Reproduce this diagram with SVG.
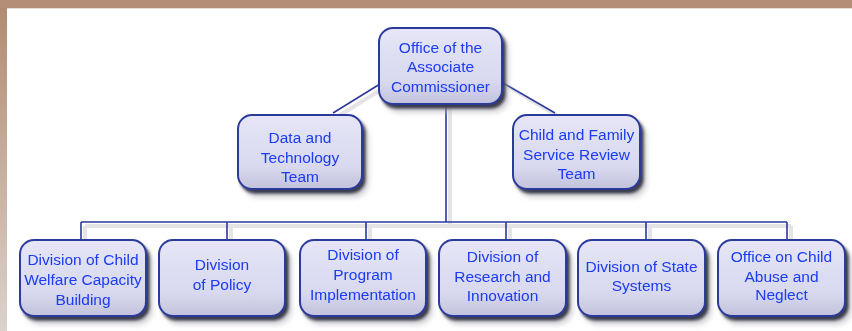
<svg xmlns="http://www.w3.org/2000/svg" width="852" height="331" viewBox="0 0 852 331">
<defs>
<linearGradient id="side" x1="0" y1="0" x2="0" y2="1">
<stop offset="0" stop-color="#b08a70"/>
<stop offset="1" stop-color="#dcd2cb"/>
</linearGradient>
<linearGradient id="boxfill" x1="0" y1="0" x2="0" y2="1">
<stop offset="0" stop-color="#e6e6f7"/>
<stop offset="0.7" stop-color="#d8d8ef"/>
<stop offset="1" stop-color="#c2c2dc"/>
</linearGradient>
<filter id="sh" x="-10%" y="-10%" width="130%" height="140%">
<feGaussianBlur in="SourceAlpha" stdDeviation="1.6" result="b"/>
<feOffset in="b" dx="3" dy="4" result="o"/>
<feFlood flood-color="#2e3046" flood-opacity="0.95"/>
<feComposite in2="o" operator="in" result="s"/>
<feGaussianBlur in="SourceAlpha" stdDeviation="2.5" result="b2"/>
<feOffset in="b2" dx="6" dy="8" result="o2"/>
<feFlood flood-color="#b0b0b8" flood-opacity="0.5"/>
<feComposite in2="o2" operator="in" result="s2"/>
<feMerge><feMergeNode in="s2"/><feMergeNode in="s"/><feMergeNode in="SourceGraphic"/></feMerge>
</filter>
</defs>
<style>
.box{fill:url(#boxfill);stroke:#2b3a9c;stroke-width:2}
.t{font-family:"Liberation Sans",Arial,sans-serif;font-size:15.5px;fill:#1a3af2;text-anchor:middle}
.ln{fill:none;stroke:#2b3a9c;stroke-width:1.6}
.lns{fill:none;stroke:#e4e4e6;stroke-width:4}
</style>
<rect x="0" y="0" width="852" height="331" fill="#ffffff"/>
<rect x="0" y="0" width="7" height="331" fill="url(#side)"/>
<rect x="0" y="0" width="852" height="8" fill="#b48e76"/>
<rect x="7" y="8" width="845" height="1" fill="#e8dcd2"/>
<g id="connectors">
<g transform="translate(4,4)">
<path class="lns" d="M378 85 L333 113 M505 83 L555 113 M446 104 V222 M81 222 H787 M81 222 V240 M227 222 V240 M366 222 V240 M506 222 V240 M646 222 V240 M787 222 V240"/>
</g>
<path class="ln" d="M380 84 L333 113 M503 83 L555 113 M446 104 V222 M81 222 H787 M81 222 V240 M227 222 V240 M366 222 V240 M506 222 V240 M646 222 V240 M787 222 V240"/>
</g>
<g id="n-oac" filter="url(#sh)">
<rect class="box" x="379" y="28" width="123" height="76" rx="14"/>
<text class="t" x="440.5" y="53">Office of the</text>
<text class="t" x="440.5" y="72">Associate</text>
<text class="t" x="440.5" y="92">Commissioner</text>
</g>
<g id="n-dtt" filter="url(#sh)">
<rect class="box" x="238" y="115" width="124" height="74" rx="14"/>
<text class="t" x="300" y="143">Data and</text>
<text class="t" x="300" y="163">Technology</text>
<text class="t" x="300" y="182">Team</text>
</g>
<g id="n-cfsr" filter="url(#sh)">
<rect class="box" x="513" y="115" width="127" height="74" rx="14"/>
<text class="t" x="576.5" y="140">Child and Family</text>
<text class="t" x="576.5" y="160">Service Review</text>
<text class="t" x="576.5" y="179">Team</text>
</g>
<g id="n-dcwcb" filter="url(#sh)">
<rect class="box" x="20" y="240" width="126" height="76" rx="14"/>
<text class="t" x="83" y="265">Division of Child</text>
<text class="t" x="83" y="285">Welfare Capacity</text>
<text class="t" x="83" y="305">Building</text>
</g>
<g id="n-dp" filter="url(#sh)">
<rect class="box" x="159" y="240" width="126" height="76" rx="14"/>
<text class="t" x="222" y="270">Division</text>
<text class="t" x="222" y="290">of Policy</text>
</g>
<g id="n-dpi" filter="url(#sh)">
<rect class="box" x="300" y="240" width="126" height="76" rx="14"/>
<text class="t" x="363" y="260">Division of</text>
<text class="t" x="363" y="280">Program</text>
<text class="t" x="363" y="300">Implementation</text>
</g>
<g id="n-dri" filter="url(#sh)">
<rect class="box" x="439" y="240" width="127" height="76" rx="14"/>
<text class="t" x="502.5" y="262">Division of</text>
<text class="t" x="502.5" y="282">Research and</text>
<text class="t" x="502.5" y="301">Innovation</text>
</g>
<g id="n-dss" filter="url(#sh)">
<rect class="box" x="578" y="240" width="127" height="76" rx="14"/>
<text class="t" x="641.5" y="272">Division of State</text>
<text class="t" x="641.5" y="291">Systems</text>
</g>
<g id="n-ocan" filter="url(#sh)">
<rect class="box" x="718" y="240" width="127" height="76" rx="14"/>
<text class="t" x="781.5" y="262">Office on Child</text>
<text class="t" x="781.5" y="282">Abuse and</text>
<text class="t" x="781.5" y="300">Neglect</text>
</g>
</svg>
